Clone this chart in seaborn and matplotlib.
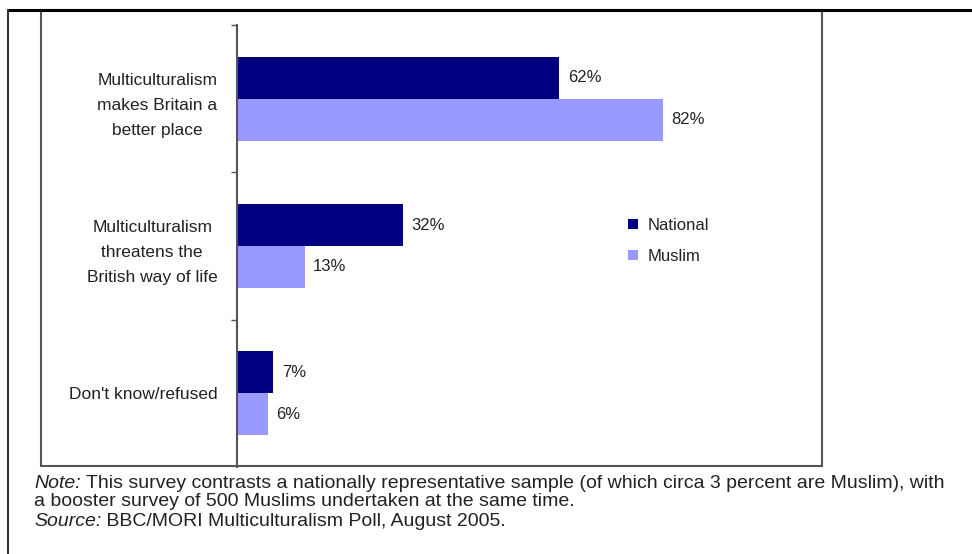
import matplotlib
matplotlib.use("Agg")
import matplotlib.pyplot as plt
import seaborn as sns
import pandas as pd
from matplotlib.lines import Line2D
from matplotlib.patches import Rectangle
from matplotlib.ticker import FixedLocator

categories = ["Multiculturalism\nmakes Britain a\nbetter place",
              "Multiculturalism\nthreatens the\nBritish way of life",
              "Don't know/refused"]
series = ["National", "Muslim"]
national = [62, 32, 7]
muslim = [82, 13, 6]
colors = ["#000080", "#9999FF"]

df = pd.DataFrame({
    "category": categories * 2,
    "group": [series[0]] * 3 + [series[1]] * 3,
    "value": national + muslim,
})

sns.set_theme(style="white")
plt.rcParams["font.family"] = ["Liberation Sans", "DejaVu Sans"]

W, H = 972, 554
fig = plt.figure(figsize=(W / 100, H / 100), dpi=100)
fig.patch.set_facecolor("white")

def fx(px):
    return px / W

def fy(py):
    return 1 - py / H

ax = fig.add_axes([fx(237), fy(467), fx(822) - fx(237), fy(25) - fy(467)])
sns.barplot(data=df, x="value", y="category", hue="group", orient="h",
            palette=colors, width=0.57, saturation=1, ax=ax, legend=True,
            linewidth=0, edgecolor="none")

ax.set_xlim(0, (822 - 237) / 5.2)
ax.set_ylim(2.5, -0.5)
ax.set_xlabel("")
ax.set_ylabel("")
ax.set_xticks([])
for s in ["top", "right", "bottom"]:
    ax.spines[s].set_visible(False)
ax.spines["left"].set_color("#555555")
ax.spines["left"].set_linewidth(1.5)
ax.set_facecolor("none")

ax.yaxis.set_minor_locator(FixedLocator([-0.5, 0.5, 1.5]))
ax.tick_params(axis="y", which="major", length=0, pad=14)
ax.tick_params(axis="y", which="minor", length=4, width=1, color="#555555", left=True)
for lab in ax.get_yticklabels():
    lab.set_fontsize(12.5)
    lab.set_color("#222222")
    lab.set_horizontalalignment("right")
    lab.set_multialignment("center")
    lab.set_linespacing(1.85)

for cont in ax.containers:
    ax.bar_label(cont, labels=[f"{int(v)}%" for v in cont.datavalues],
                 padding=6, fontsize=12, color="#222222")

ax.legend(loc="upper left", bbox_to_anchor=(fx(613), fy(203)), bbox_transform=fig.transFigure,
          frameon=False, fontsize=12, handlelength=0.6, handleheight=0.6,
          handletextpad=0.6, labelspacing=0.95, labelcolor="#222222")

# frame lines
fig.add_artist(Line2D([fx(8), 1.0], [fy(10), fy(10)], color="black", lw=2.2))
fig.add_artist(Line2D([fx(8), fx(8)], [fy(10), 0.0], color="#333333", lw=1.5))
fig.add_artist(Rectangle((fx(41), fy(466)), fx(822) - fx(41), fy(10) - fy(466),
                         transform=fig.transFigure, fill=False, edgecolor="#555555", lw=1.5))

# notes
note_family = ["Liberation Sans", "DejaVu Sans"]
fs = 14.0
fig.canvas.draw()
r = fig.canvas.get_renderer()
t1 = fig.text(fx(34), fy(483), "Note:", style="italic", fontsize=fs, family=note_family,
              color="#222222", va="center")
bb = t1.get_window_extent(renderer=r)
fig.text(bb.x1 / W, fy(483), " This survey contrasts a nationally representative sample (of which circa 3 percent are Muslim), with",
         fontsize=fs, family=note_family, color="#222222", va="center")
fig.text(fx(34), fy(502), "a booster survey of 500 Muslims undertaken at the same time.",
         fontsize=fs, family=note_family, color="#222222", va="center")
t3 = fig.text(fx(34), fy(521), "Source:", style="italic", fontsize=fs, family=note_family,
              color="#222222", va="center")
bb3 = t3.get_window_extent(renderer=r)
fig.text(bb3.x1 / W, fy(521), " BBC/MORI Multiculturalism Poll, August 2005.",
         fontsize=fs, family=note_family, color="#222222", va="center")

fig.savefig("out.png", dpi=100, facecolor="white")
